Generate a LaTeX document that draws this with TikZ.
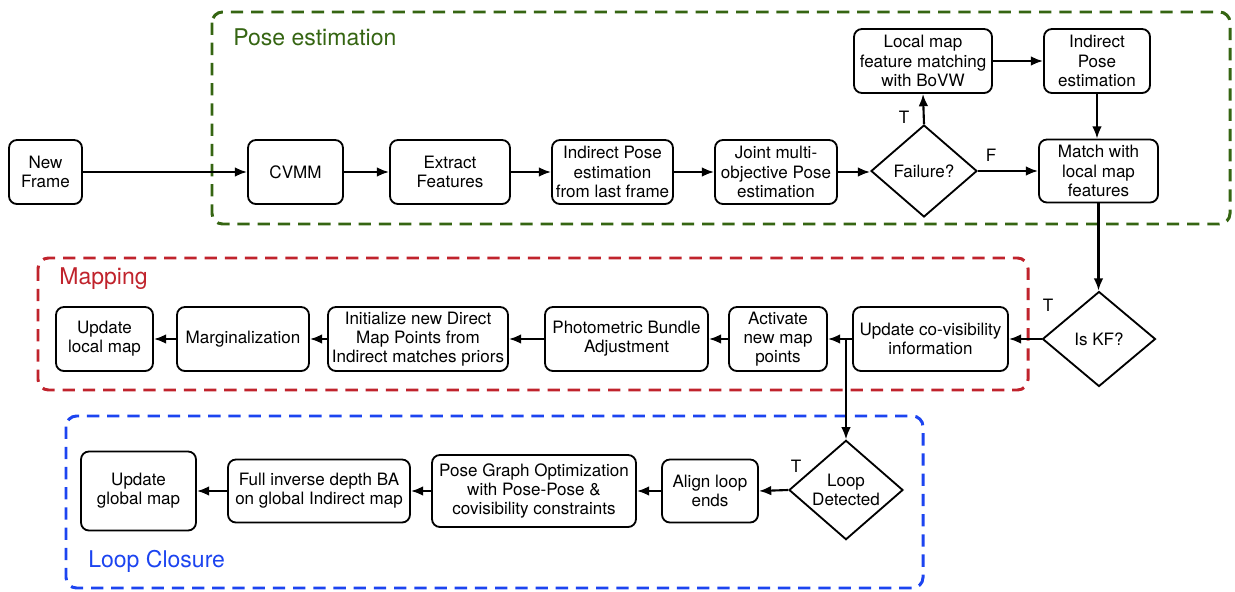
\documentclass[tikz,border=0pt]{standalone}
\usepackage{fontspec}
\setmainfont{TeX Gyre Heros}
\usetikzlibrary{arrows.meta,shapes.geometric}
\definecolor{pgreen}{RGB}{53,101,18}
\definecolor{mred}{RGB}{192,35,44}
\definecolor{lblue}{RGB}{28,68,240}
\begin{document}
\begin{tikzpicture}[x=0.02cm,y=-0.02cm,
  box/.style={draw, rounded corners=4.5pt, line width=1.05pt, align=center, inner sep=1pt,
    minimum height=1.28cm, font=\fontsize{9.7}{10.9}\selectfont},
  dec/.style={draw, diamond, line width=1.05pt, align=center, inner sep=0pt,
    font=\fontsize{9.7}{10.9}\selectfont},
  arr/.style={-{Latex[length=7pt,width=5.5pt]}, line width=1.2pt},
  grp/.style={dash pattern=on 7pt off 4.5pt, line width=1.7pt, rounded corners=6pt},
  ttl/.style={font=\fontsize{13.1}{15}\selectfont, anchor=west, inner sep=0pt},
  lbl/.style={font=\fontsize{9.7}{11}\selectfont, inner sep=0pt}]
\useasboundingbox (0,0) rectangle (1235,592);

% group frames
\draw[grp, pgreen] (212,12) rectangle (1230,224);
\draw[grp, mred] (38,258) rectangle (1028,390);
\draw[grp, lblue] (66,416) rectangle (923,588);
\node[ttl, text=pgreen] (tpose) at (233,37) {Pose estimation};
\node[ttl, text=mred] (tmap) at (59,279) {Mapping};
\node[ttl, text=lblue] (tloop) at (88,561) {Loop Closure};

% pose estimation row
\node[box, minimum width=1.46cm] (nf) at (45.5,172) {New\\Frame};
\node[box, minimum width=1.9cm] (cvmm) at (295.5,172) {CVMM};
\node[box, minimum width=2.4cm] (ext) at (450,172) {Extract\\Features};
\node[box, minimum width=2.42cm] (ipl) at (612.5,172) {Indirect Pose\\estimation\\from last frame};
\node[box, minimum width=2.44cm] (joint) at (776,172) {Joint multi-\\objective Pose\\estimation};
\node[dec, minimum width=2.12cm, minimum height=1.84cm] (fail) at (924,171) {Failure?};
\node[box, minimum width=2.38cm, minimum height=1.26cm] (match) at (1098.5,171) {Match with\\local map\\features};
\node[box, minimum width=2.76cm] (lmf) at (923,61) {Local map\\feature matching\\with BoVW};
\node[box, minimum width=2.12cm] (ipe) at (1097,61) {Indirect\\Pose\\estimation};

% mapping row
\node[dec, minimum width=2.26cm, minimum height=1.9cm] (iskf) at (1099,339) {Is KF?};
\node[box, minimum width=3.1cm] (covis) at (930.5,339) {Update co-visibility\\information};
\node[box, minimum width=1.96cm] (act) at (778,339) {Activate\\new map\\points};
\node[box, minimum width=3.26cm] (pba) at (626.5,339) {Photometric Bundle\\Adjustment};
\node[box, minimum width=3.6cm] (init) at (418,339) {Initialize new Direct\\Map Points from\\Indirect matches priors};
\node[box, minimum width=2.64cm] (marg) at (243,339) {Marginalization};
\node[box, minimum width=1.94cm] (ulm) at (104.5,339) {Update\\local map};

% loop closure row
\node[dec, minimum width=2.28cm, minimum height=1.88cm] (loopd) at (846,490) {Loop\\Detected};
\node[box, minimum width=1.92cm, minimum height=1.26cm] (align) at (710,491) {Align loop\\ends};
\node[box, minimum width=4.08cm, minimum height=1.44cm] (pgo) at (534,491) {Pose Graph Optimization\\with Pose-Pose \&\\covisibility constraints};
\node[box, minimum width=3.64cm, minimum height=1.26cm] (fba) at (319,491) {Full inverse depth BA\\on global Indirect map};
\node[box, minimum width=2.3cm, minimum height=1.58cm] (ugm) at (138.5,491) {Update\\global map};

% labels
\node[lbl] (tf) at (904,117) {T};
\node[lbl] (ff) at (991,155) {F};
\node[lbl] (tk) at (1048,305) {T};
\node[lbl] (tl) at (796,466) {T};

% connectors
\draw[arr] (nf) -- (cvmm);
\draw[arr] (cvmm) -- (ext);
\draw[arr] (ext) -- (ipl);
\draw[arr] (ipl) -- (joint);
\draw[arr] (joint.east) -- (joint.east -| fail.west);
\draw[arr] (fail.east) -- (fail.east -| match.west);
\draw[arr] (fail.north) -- (lmf.south);
\draw[arr] (lmf) -- (ipe);
\draw[arr] (ipe.south) -- (ipe.south |- match.north);
\draw[arr] (match.south) -- (match.south |- iskf.north);
\draw[arr] (iskf.west) -- (covis.east);
\draw[arr] (covis) -- (act);
\draw[arr] (act) -- (pba);
\draw[arr] (pba) -- (init);
\draw[arr] (init) -- (marg);
\draw[arr] (marg) -- (ulm);
\draw[arr] (covis.west) -| (loopd.north);
\draw[arr] (loopd.west) -- (align.east);
\draw[arr] (align) -- (pgo);
\draw[arr] (pgo) -- (fba);
\draw[arr] (fba) -- (ugm);
\end{tikzpicture}
\end{document}
